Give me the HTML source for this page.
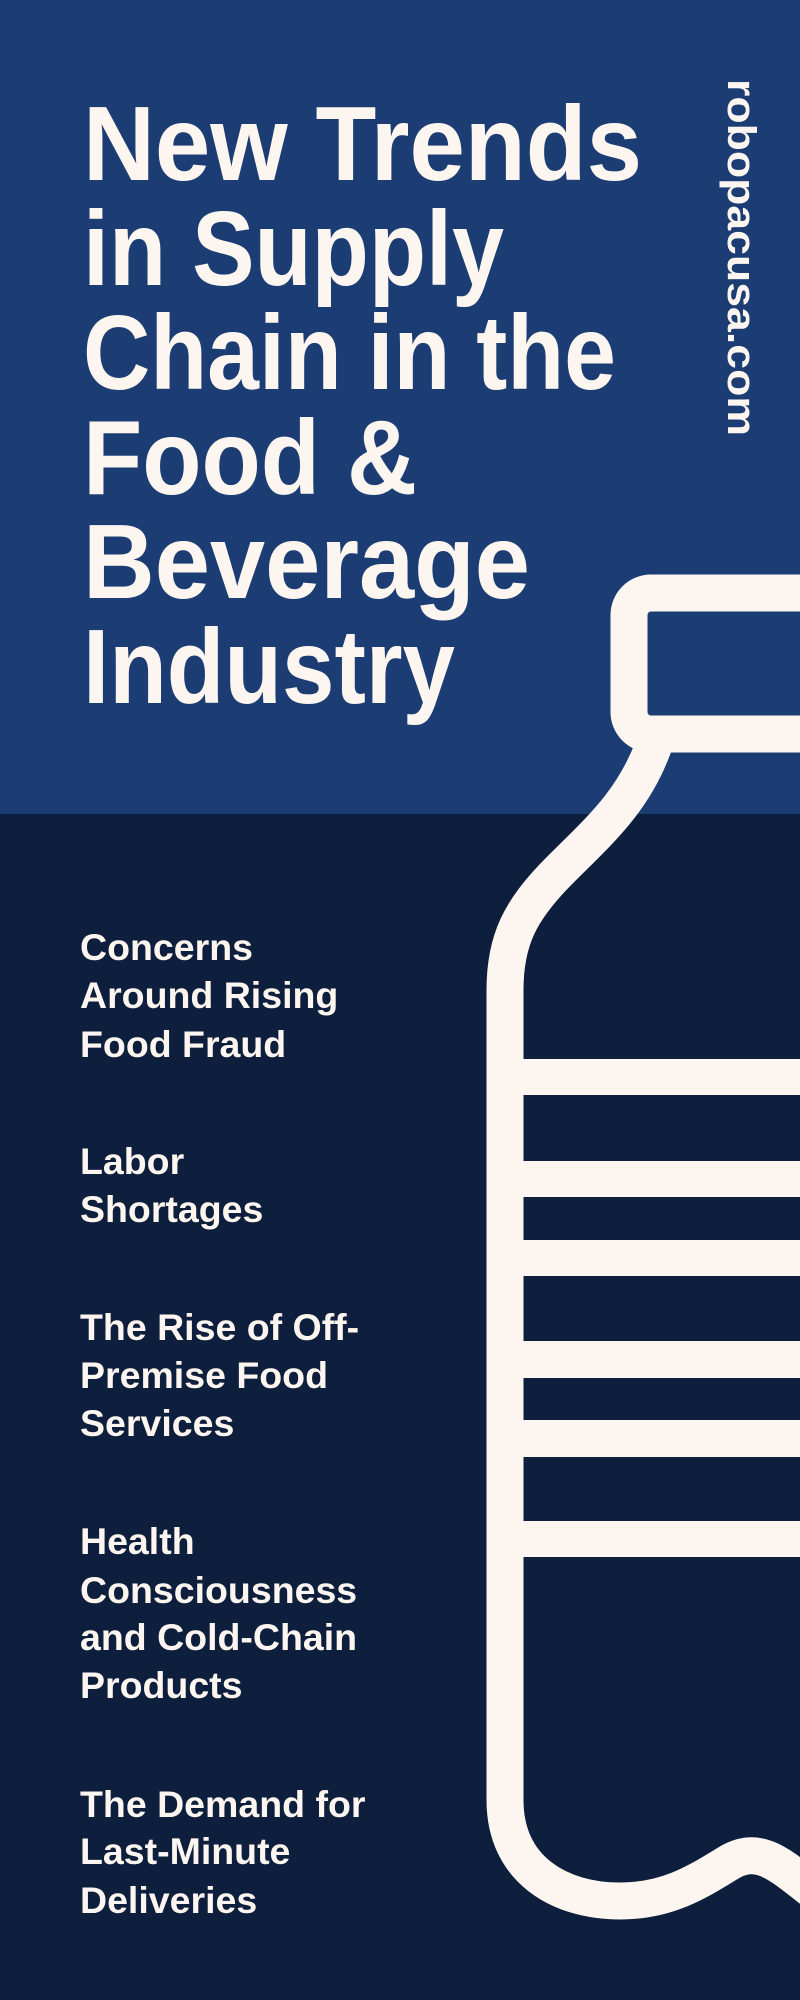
<!DOCTYPE html>
<html><head><meta charset="utf-8"><style>
html,body{margin:0;padding:0;width:800px;height:2000px;overflow:hidden;background:#0d1f3c}
svg{display:block}
text{font-family:"Liberation Sans",sans-serif;font-weight:bold;fill:#fdf6f0}
</style></head><body>
<svg width="800" height="2000" viewBox="0 0 800 2000" xmlns="http://www.w3.org/2000/svg">
<rect x="0" y="0" width="800" height="814" fill="#1c3d73"/>
<rect x="0" y="814" width="800" height="1186" fill="#0d1f3c"/>
<g font-size="106">
<text x="83" y="180" textLength="559" lengthAdjust="spacingAndGlyphs">New Trends</text>
<text x="83" y="285" textLength="421" lengthAdjust="spacingAndGlyphs">in Supply</text>
<text x="83" y="389" textLength="533" lengthAdjust="spacingAndGlyphs">Chain in the</text>
<text x="83" y="494" textLength="334" lengthAdjust="spacingAndGlyphs">Food &amp;</text>
<text x="83" y="598" textLength="447" lengthAdjust="spacingAndGlyphs">Beverage</text>
<text x="83" y="703" textLength="372" lengthAdjust="spacingAndGlyphs">Industry</text>
</g>
<text transform="translate(728,79) rotate(90)" x="0" y="0" font-size="40" textLength="357" lengthAdjust="spacingAndGlyphs">robopacusa.com</text>
<g fill="none" stroke="#fdf6f0" stroke-width="37">
<rect x="629" y="593" width="220" height="141" rx="22"/>
<path d="M655 742 C635 800,600 830,560 870 C520 910,505 940,505 990 L505 1800 C505 1870,560 1901,620 1901 C670 1901,700 1880,730 1862 C760 1845,780 1865,815 1892"/>
</g>
<g fill="#fdf6f0">
<rect x="523" y="1059" width="277" height="36"/>
<rect x="523" y="1161" width="277" height="36"/>
<rect x="523" y="1240" width="277" height="36"/>
<rect x="523" y="1341" width="277" height="37"/>
<rect x="523" y="1420" width="277" height="37"/>
<rect x="523" y="1521" width="277" height="36"/>
</g>
<g font-size="37.5">
<text x="80" y="960">Concerns</text>
<text x="80" y="1008">Around Rising</text>
<text x="80" y="1057">Food Fraud</text>
<text x="80" y="1174">Labor</text>
<text x="80" y="1222">Shortages</text>
<text x="80" y="1340">The Rise of Off-</text>
<text x="80" y="1388">Premise Food</text>
<text x="80" y="1436">Services</text>
<text x="80" y="1554">Health</text>
<text x="80" y="1603">Consciousness</text>
<text x="80" y="1650">and Cold-Chain</text>
<text x="80" y="1698">Products</text>
<text x="80" y="1817">The Demand for</text>
<text x="80" y="1864">Last-Minute</text>
<text x="80" y="1913">Deliveries</text>
</g>
</svg>
</body></html>
